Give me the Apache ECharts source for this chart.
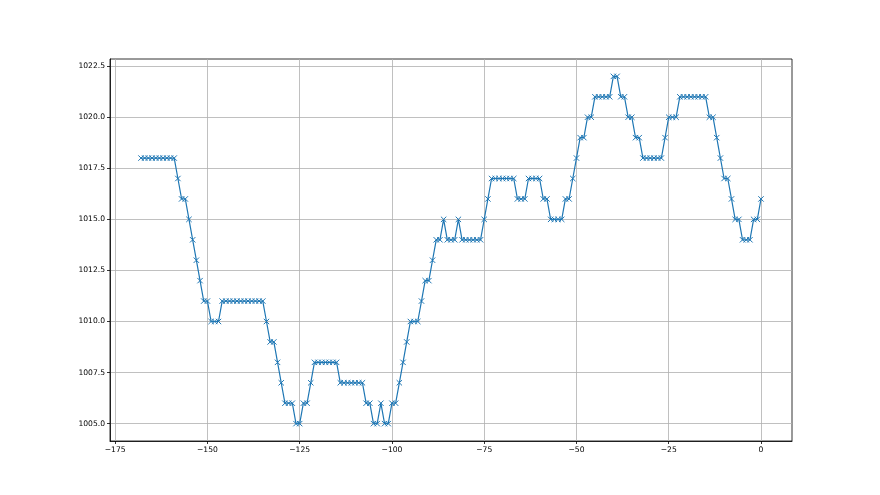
<!DOCTYPE html>
<html>
<head>
<meta charset="utf-8">
<script src="https://cdn.jsdelivr.net/npm/echarts@6/dist/echarts.min.js"></script>
<style>html,body{margin:0;padding:0;background:#fff;}#c{width:880px;height:495px;}</style>
</head>
<body>
<div id="c"></div>
<script>
const hours = [-168,-167,-166,-165,-164,-163,-162,-161,-160,-159,
-158,-157,-156,-155,-154,-153,-152,-151,-150,-149,
-148,-147,-146,-145,-144,-143,-142,-141,-140,-139,
-138,-137,-136,-135,-134,-133,-132,-131,-130,-129,
-128,-127,-126,-125,-124,-123,-122,-121,-120,-119,
-118,-117,-116,-115,-114,-113,-112,-111,-110,-109,
-108,-107,-106,-105,-104,-103,-102,-101,-100,-99,
-98,-97,-96,-95,-94,-93,-92,-91,-90,-89,
-88,-87,-86,-85,-84,-83,-82,-81,-80,-79,
-78,-77,-76,-75,-74,-73,-72,-71,-70,-69,
-68,-67,-66,-65,-64,-63,-62,-61,-60,-59,
-58,-57,-56,-55,-54,-53,-52,-51,-50,-49,
-48,-47,-46,-45,-44,-43,-42,-41,-40,-39,
-38,-37,-36,-35,-34,-33,-32,-31,-30,-29,
-28,-27,-26,-25,-24,-23,-22,-21,-20,-19,
-18,-17,-16,-15,-14,-13,-12,-11,-10,-9,
-8,-7,-6,-5,-4,-3,-2,-1,0];

const pressure = [1018,1018,1018,1018,1018,1018,1018,1018,1018,1018,
1017,1016,1016,1015,1014,1013,1012,1011,1011,1010,
1010,1010,1011,1011,1011,1011,1011,1011,1011,1011,
1011,1011,1011,1011,1010,1009,1009,1008,1007,1006,
1006,1006,1005,1005,1006,1006,1007,1008,1008,1008,
1008,1008,1008,1008,1007,1007,1007,1007,1007,1007,
1007,1006,1006,1005,1005,1006,1005,1005,1006,1006,
1007,1008,1009,1010,1010,1010,1011,1012,1012,1013,
1014,1014,1015,1014,1014,1014,1015,1014,1014,1014,
1014,1014,1014,1015,1016,1017,1017,1017,1017,1017,
1017,1017,1016,1016,1016,1017,1017,1017,1017,1016,
1016,1015,1015,1015,1015,1016,1016,1017,1018,1019,
1019,1020,1020,1021,1021,1021,1021,1021,1022,1022,
1021,1021,1020,1020,1019,1019,1018,1018,1018,1018,
1018,1018,1019,1020,1020,1020,1021,1021,1021,1021,
1021,1021,1021,1021,1020,1020,1019,1018,1017,1017,
1016,1015,1015,1014,1014,1014,1015,1015,1016];

const xTicks = [-175,-150,-125,-100,-75,-50,-25,0];
const yTicks = [1005,1007.5,1010,1012.5,1015,1017.5,1020,1022.5];

const xMin = -176.4, xMax = 8.4;
const yMin = 1004.15, yMax = 1022.85;

const chart = echarts.init(document.getElementById('c'), null, {renderer:'canvas'});
const font = {fontFamily:'DejaVu Sans', fontSize:7.6, color:'#000'};
const minus = v => String(v).replace('-', '\u2212');

chart.setOption({
  animation:false,
  backgroundColor:'#fff',
  grid:{left:110, right:88, top:59, bottom:54, show:true, borderColor:'#000', borderWidth:0.8, backgroundColor:'transparent'},
  xAxis:{
    type:'value', min:xMin, max:xMax,
    axisLine:{show:true, onZero:false, lineStyle:{color:'#000', width:0.8}},
    axisTick:{show:true, length:3, lineStyle:{color:'#000', width:0.8}, customValues:xTicks},
    axisLabel:Object.assign({margin:5, customValues:xTicks, formatter:v=>minus(v)}, font),
    splitLine:{show:true, lineStyle:{color:'#b0b0b0', width:0.8}, customValues:xTicks}
  },
  yAxis:{
    type:'value', min:yMin, max:yMax,
    axisLine:{show:true, onZero:false, lineStyle:{color:'#000', width:0.8}},
    axisTick:{show:true, length:3, lineStyle:{color:'#000', width:0.8}, customValues:yTicks},
    axisLabel:Object.assign({margin:5, customValues:yTicks, formatter:v=>Number(v).toFixed(1)}, font),
    splitLine:{show:true, lineStyle:{color:'#b0b0b0', width:0.8}, customValues:yTicks}
  },
  series:[{
    type:'line',
    data:hours.map((h,i)=>[h, pressure[i]]),
    lineStyle:{color:'#1f77b4', width:1.2},
    symbol:'path://M0,0L10,10M10,0L0,10',
    symbolSize:5.4,
    showAllSymbol:true,
    itemStyle:{color:'#1f77b4', borderColor:'#1f77b4', borderWidth:1},
    emphasis:{disabled:true}
  }]
});
</script>
</body>
</html>
